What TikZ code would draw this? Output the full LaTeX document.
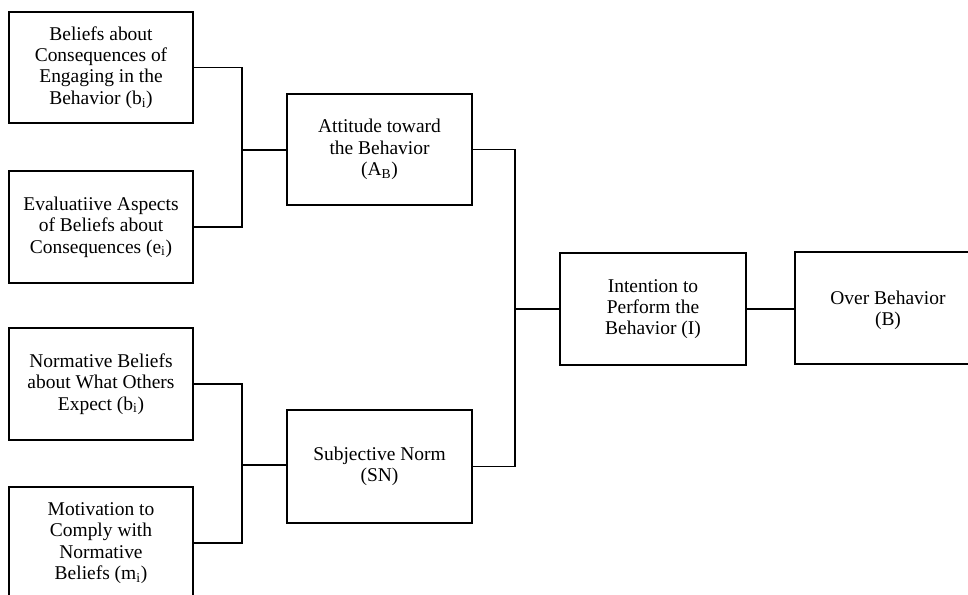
\documentclass[tikz,border=0pt]{standalone}
\usepackage{fontspec}
\setmainfont{Liberation Serif}
\begin{document}
\begin{tikzpicture}[x=0.75pt,y=-0.75pt,
  box/.style={draw, line width=1.4pt, rectangle, align=center,
    font=\fontsize{14.6}{16}\selectfont, inner sep=0pt},
  wire/.style={line width=1.4pt}]
\useasboundingbox (0,0) rectangle (968,595);
\begin{scope}
\clip (0,0) rectangle (968,595);
% belief boxes on the left
\node[box, minimum width=138pt, minimum height=83.25pt] (bel) at (101,67.5)
  {Beliefs about\\Consequences of\\Engaging in the\\Behavior (b\textsubscript{i})};
\node[box, minimum width=138pt, minimum height=84pt] (eval) at (101,227)
  {Evaluatiive Aspects\\of Beliefs about\\Consequences (e\textsubscript{i})};
\node[box, minimum width=138pt, minimum height=84pt] (norm) at (101,384)
  {Normative Beliefs\\about What Others\\Expect (b\textsubscript{i})};
\node[box, minimum width=138pt, minimum height=84pt] (motiv) at (101,543)
  {Motivation to\\Comply with\\Normative\\Beliefs (m\textsubscript{i})};
% middle column
\node[box, minimum width=138.75pt, minimum height=83.25pt] (att) at (379.5,149.5)
  {Attitude toward\\the Behavior\\(A\textsubscript{B})};
\node[box, minimum width=138.75pt, minimum height=84.75pt] (sn) at (379.5,466.5)
  {Subjective Norm\\(SN)};
% right column
\node[box, minimum width=139.5pt, minimum height=84pt] (int) at (653,309)
  {Intention to\\Perform the\\Behavior (I)};
\node[box, minimum width=139.5pt, minimum height=84pt, text depth=0pt] (over) at (888,308)
  {Over Behavior\\(B)\rule[-9pt]{0pt}{1pt}};
% junction points
\coordinate (j1) at (242,150);
\coordinate (j2) at (242,465);
\coordinate (j3) at (515,309);
% connectors
\draw[wire] (bel.east) -| (j1) |- (eval.east);
\draw[wire] (j1) -- (j1 -| att.west);
\draw[wire] (norm.east) -| (j2) |- (motiv.east);
\draw[wire] (j2) -- (j2 -| sn.west);
\draw[wire] (att.east) -| (j3) |- (sn.east);
\draw[wire] (j3) -- (int.west);
\draw[wire] (int.east) -- (int.east -| over.west);
\end{scope}
\end{tikzpicture}
\end{document}
